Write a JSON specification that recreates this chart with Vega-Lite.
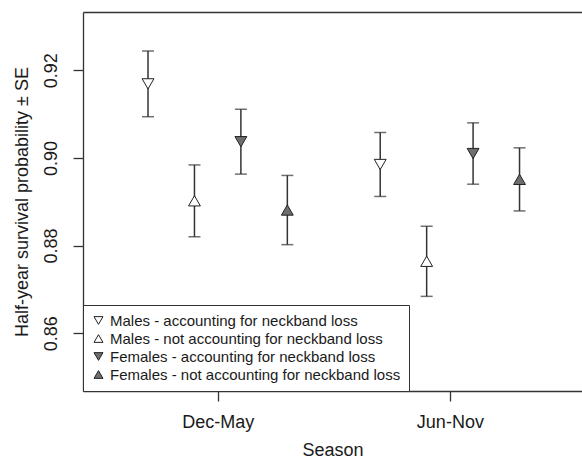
{
  "$schema": "https://vega.github.io/schema/vega-lite/v6.json",
  "width": 499,
  "height": 379,
  "autosize": {"type": "none"},
  "padding": {"left": 83, "top": 12, "right": 0, "bottom": 72},
  "background": "white",
  "config": {
    "view": {"stroke": null},
    "font": "Liberation Sans",
    "axis": {
      "grid": false,
      "domainColor": "#333333",
      "domainWidth": 1.3,
      "tickColor": "#333333",
      "tickWidth": 1.3,
      "tickSize": 10,
      "labelColor": "#1a1a1a",
      "titleColor": "#1a1a1a",
      "labelFontSize": 18,
      "titleFontSize": 18,
      "titleFontWeight": "normal",
      "labelFont": "Liberation Sans",
      "titleFont": "Liberation Sans"
    },
    "legend": {
      "orient": "bottom-left",
      "offset": 0,
      "padding": 8,
      "strokeColor": "#333333",
      "fillColor": "white",
      "labelFont": "Liberation Sans",
      "labelFontSize": 15,
      "labelColor": "#1a1a1a",
      "symbolSize": 80,
      "symbolStrokeWidth": 1,
      "rowPadding": 2,
      "labelOffset": 4,
      "labelLimit": 400
    }
  },
  "data": {
    "values": [
      {"season": "Dec-May", "group": "Males - accounting for neckband loss", "x": 0.7, "mean": 0.9169, "lo": 0.9094, "hi": 0.9244},
      {"season": "Dec-May", "group": "Males - not accounting for neckband loss", "x": 0.9, "mean": 0.8902, "lo": 0.8820, "hi": 0.8984},
      {"season": "Dec-May", "group": "Females - accounting for neckband loss", "x": 1.1, "mean": 0.9037, "lo": 0.8963, "hi": 0.9111},
      {"season": "Dec-May", "group": "Females - not accounting for neckband loss", "x": 1.3, "mean": 0.8881, "lo": 0.8802, "hi": 0.8960},
      {"season": "Jun-Nov", "group": "Males - accounting for neckband loss", "x": 1.7, "mean": 0.8985, "lo": 0.8912, "hi": 0.9058},
      {"season": "Jun-Nov", "group": "Males - not accounting for neckband loss", "x": 1.9, "mean": 0.8764, "lo": 0.8684, "hi": 0.8844},
      {"season": "Jun-Nov", "group": "Females - accounting for neckband loss", "x": 2.1, "mean": 0.9010, "lo": 0.8940, "hi": 0.9080},
      {"season": "Jun-Nov", "group": "Females - not accounting for neckband loss", "x": 2.3, "mean": 0.8951, "lo": 0.8879, "hi": 0.9023}
    ]
  },
  "resolve": {"axis": {"x": "independent"}},
  "layer": [
    {
      "mark": {"type": "rule", "color": "#333333", "strokeWidth": 1.5},
      "encoding": {
        "x": {
          "field": "x", "type": "quantitative",
          "scale": {"domain": [0.42, 2.569], "nice": false, "zero": false},
          "axis": {
            "orient": "bottom", "values": [1, 2],
            "labelExpr": "datum.value == 1 ? 'Dec-May' : 'Jun-Nov'",
            "labelPadding": 12, "labelFlush": false,
            "title": "Season", "titlePadding": 10
          }
        },
        "y": {
          "field": "lo", "type": "quantitative",
          "title": "Half-year survival probability ± SE",
          "scale": {"domain": [0.8468, 0.9333], "nice": false, "zero": false},
          "axis": {
            "values": [0.86, 0.88, 0.9, 0.92], "format": ".2f",
            "labelAngle": 270, "labelAlign": "center", "labelBaseline": "middle",
            "labelPadding": 22, "titlePadding": 11
          }
        },
        "y2": {"field": "hi"}
      }
    },
    {
      "mark": {"type": "tick", "orient": "horizontal", "color": "#333333", "size": 12, "thickness": 1.5},
      "encoding": {
        "x": {"field": "x", "type": "quantitative", "axis": null},
        "y": {"field": "lo", "type": "quantitative", "title": "Half-year survival probability ± SE"}
      }
    },
    {
      "mark": {"type": "tick", "orient": "horizontal", "color": "#333333", "size": 12, "thickness": 1.5},
      "encoding": {
        "x": {"field": "x", "type": "quantitative", "axis": null},
        "y": {"field": "hi", "type": "quantitative", "title": "Half-year survival probability ± SE"}
      }
    },
    {
      "mark": {"type": "point", "filled": true, "size": 140, "strokeWidth": 1, "opacity": 1},
      "encoding": {
        "x": {"field": "x", "type": "quantitative", "axis": null},
        "y": {"field": "mean", "type": "quantitative", "title": "Half-year survival probability ± SE"},
        "shape": {
          "field": "group", "type": "nominal",
          "scale": {
            "domain": ["Males - accounting for neckband loss", "Males - not accounting for neckband loss", "Females - accounting for neckband loss", "Females - not accounting for neckband loss"],
            "range": ["triangle-down", "triangle-up", "triangle-down", "triangle-up"]
          },
          "legend": {"title": null}
        },
        "fill": {
          "field": "group", "type": "nominal",
          "scale": {
            "domain": ["Males - accounting for neckband loss", "Males - not accounting for neckband loss", "Females - accounting for neckband loss", "Females - not accounting for neckband loss"],
            "range": ["#ffffff", "#ffffff", "#6e6e6e", "#6e6e6e"]
          },
          "legend": {"title": null}
        },
        "stroke": {
          "field": "group", "type": "nominal",
          "scale": {
            "domain": ["Males - accounting for neckband loss", "Males - not accounting for neckband loss", "Females - accounting for neckband loss", "Females - not accounting for neckband loss"],
            "range": ["#222222", "#222222", "#222222", "#222222"]
          },
          "legend": {"title": null}
        }
      }
    },
    {
      "mark": {"type": "point", "opacity": 0},
      "encoding": {
        "x": {"field": "x", "type": "quantitative", "axis": {"orient": "top", "labels": false, "ticks": false, "title": null, "domain": true}},
        "y": {"field": "mean", "type": "quantitative", "title": "Half-year survival probability ± SE"}
      }
    }
  ]
}
